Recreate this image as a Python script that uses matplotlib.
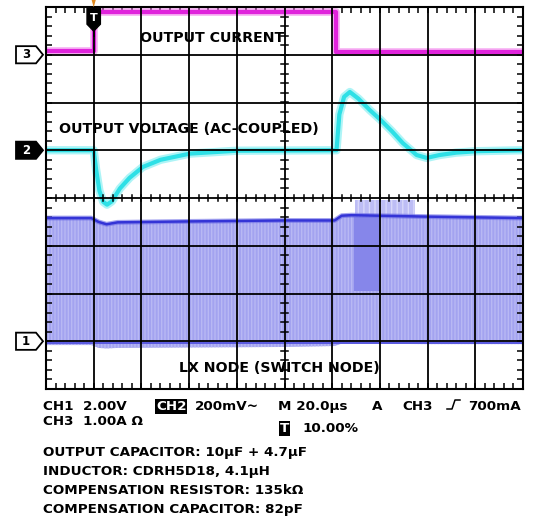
"""
Load-transient scope capture: output current, AC-coupled output voltage
and LX switch node, redrawn with matplotlib.
"""
import numpy as np
import matplotlib.pyplot as plt
from matplotlib.patches import Polygon
from matplotlib.lines import Line2D
from matplotlib.transforms import blended_transform_factory

plt.rcParams['font.family'] = 'DejaVu Sans'
plt.rcParams['font.weight'] = 'bold'

# channel reference levels (divisions from bottom of screen)
ch1_ref, ch2_ref, ch3_ref = 1.0, 5.0, 7.0

# CH3 - output current (divisions)
ch3_t = [0.0, 1.0, 1.0, 6.09, 6.09, 10.0]
ch3_v = [7.07, 7.07, 7.9, 7.9, 7.05, 7.05]

# CH2 - output voltage, AC coupled (divisions)
ch2_t = [0.0, 1.0, 1.05, 1.12, 1.2, 1.28, 1.38, 1.55, 1.75, 2.03, 2.4, 3.02,
         4.0, 6.09, 6.15, 6.25, 6.37, 6.55, 6.79, 7.02, 7.25, 7.48, 7.77,
         7.98, 8.25, 8.6, 9.03, 10.0]
ch2_v = [5.0, 5.0, 4.6, 4.15, 3.92, 3.86, 3.93, 4.2, 4.42, 4.65, 4.8, 4.93,
         4.99, 5.0, 5.75, 6.12, 6.22, 6.08, 5.84, 5.63, 5.4, 5.15, 4.9,
         4.84, 4.9, 4.95, 4.98, 5.0]

# CH1 - LX node envelope (divisions)
ch1_t = [0.0, 0.95, 1.1, 1.27, 1.5, 3.0, 5.0, 6.05, 6.2, 6.4, 8.0, 10.0]
ch1_top = [3.58, 3.58, 3.5, 3.45, 3.49, 3.51, 3.53, 3.53, 3.63, 3.64, 3.61, 3.58]
ch1_low = [0.92, 0.92, 0.86, 0.85, 0.86, 0.87, 0.88, 0.9, 0.95, 0.95, 0.94, 0.94]
skip_t = [6.47, 7.73]     # pulse-skipping burst
skip_top = [3.96, 3.96]
dense_t = [6.45, 7.0]     # denser switching region
dense_low = [2.05, 2.05]

bottom_row1 = ['CH1  2.00V', '200mV~', 'M 20.0µs', 'A', 'CH3', '700mA']
bottom_row2 = ['CH3  1.00A Ω', '10.00%']
notes = ['OUTPUT CAPACITOR: 10µF + 4.7µF',
         'INDUCTOR: CDRH5D18, 4.1µH',
         'COMPENSATION RESISTOR: 135kΩ',
         'COMPENSATION CAPACITOR: 82pF']

W, H = 535, 520
fig = plt.figure(figsize=(W / 100, H / 100), dpi=100)
ax = fig.add_axes([46 / W, 1 - 389 / H, 477 / W, 382 / H])
ax.set_xlim(0, 10)
ax.set_ylim(0, 8)


def px(x, y):
    return x / W, 1 - y / H


# LX node band
ax.fill_between(skip_t, [3.55, 3.55], skip_top, facecolor='#bdbdf5',
                edgecolor='#d8d8fa', hatch='|||', lw=0, zorder=1)
ax.fill_between(ch1_t, ch1_low, ch1_top, facecolor='#a3a3f0', edgecolor='#b8b8f4',
                hatch='|||||', lw=0, zorder=1)
ax.fill_between(dense_t, dense_low, [3.6, 3.6], color='#8686ea', lw=0, zorder=1)
ax.plot(ch1_t, ch1_top, color='#6a6ae6', lw=3.5, alpha=0.6, zorder=2)
ax.plot(ch1_t, ch1_top, color='#3434d6', lw=1.8, zorder=2)
ax.plot([0, 10], [ch1_ref - 0.03] * 2, color='#5a5ae0', lw=1.4, zorder=2)

# output voltage
ax.plot(ch2_t, ch2_v, color='#6cecf0', lw=6, alpha=0.55, zorder=3,
        solid_joinstyle='round')
ax.plot(ch2_t, ch2_v, color='#2ee0e6', lw=3, zorder=3)

# output current
ax.plot(ch3_t, ch3_v, color='#f070ea', lw=5.5, alpha=0.55, zorder=3)
ax.plot(ch3_t, ch3_v, color='#e024dc', lw=3, zorder=3)

# graticule
for k in range(1, 10):
    ax.axvline(k, color='black', lw=1.3, zorder=4)
for k in range(1, 8):
    ax.axhline(k, color='black', lw=1.3, zorder=4)
for s in ax.spines.values():
    s.set_linewidth(1.5)
    s.set_zorder(5)
ax.set_xticks(np.arange(0, 10.01, 0.2))
ax.set_yticks(np.arange(0, 8.01, 0.2))
ax.tick_params(direction='in', length=4, width=1.1, top=True, right=True,
               labelbottom=False, labelleft=False)
for t in np.arange(0.2, 10, 0.2):
    ax.plot([t, t], [3.93, 4.07], color='black', lw=1.1, zorder=4)
for t in np.arange(0.2, 8, 0.2):
    ax.plot([4.93, 5.07], [t, t], color='black', lw=1.1, zorder=4)

# in-screen labels
lab = 10.2
ax.text(3.49, 7.35, 'OUTPUT CURRENT', ha='center', va='center', fontsize=lab,
        fontweight='bold', zorder=6)
ax.text(3.0, 5.44, 'OUTPUT VOLTAGE (AC-COUPLED)', ha='center', va='center',
        fontsize=lab, fontweight='bold', zorder=6)
ax.text(4.9, 0.44, 'LX NODE (SWITCH NODE)', ha='center', va='center',
        fontsize=lab, fontweight='bold', zorder=6)

# channel markers
tr = blended_transform_factory(fig.transFigure, ax.transData)
for num, lvl, dark in [('3', ch3_ref, False), ('2', ch2_ref, True), ('1', ch1_ref, False)]:
    x0, x1, x2 = 16 / W, 36 / W, 43 / W
    h = 0.18
    poly = Polygon([(x0, lvl - h), (x1, lvl - h), (x2, lvl), (x1, lvl + h), (x0, lvl + h)],
                   closed=True, transform=tr, clip_on=False, lw=1.3,
                   facecolor='black' if dark else 'white', edgecolor='black')
    ax.add_patch(poly)
    ax.text(26 / W, lvl, num, transform=tr, ha='center', va='center',
            fontsize=8.5, fontweight='bold', color='white' if dark else 'black')

# trigger marker
tt = blended_transform_factory(ax.transData, ax.transAxes)
ax.add_patch(Polygon([(0.92, 1.035), (1.08, 1.035), (1.0, 0.999)], closed=True,
                     transform=tt, clip_on=False, facecolor='#e08a20',
                     edgecolor='none', zorder=7))
ax.add_patch(Polygon([(0.86, 0.997), (1.14, 0.997), (1.14, 0.955), (1.0, 0.937),
                      (0.86, 0.955)], closed=True, transform=tt, clip_on=False,
                     facecolor='black', edgecolor='black', lw=1, zorder=7))
ax.plot([1.0, 1.0], [0.94, 0.925], transform=tt, color='black', lw=1.3, zorder=7)
ax.text(1.0, 0.972, 'T', transform=tt, ha='center', va='center', color='white',
        fontsize=8, fontweight='bold', zorder=8)

# readout text
fs = 9.7
fig.text(*px(43, 410), bottom_row1[0], fontsize=fs, fontweight='bold', va='baseline')
fig.text(*px(156, 410), 'CH2', fontsize=fs, fontweight='bold', va='baseline',
         color='white', bbox=dict(facecolor='black', edgecolor='none', pad=0.5))
fig.text(*px(195, 410), bottom_row1[1], fontsize=fs, fontweight='bold', va='baseline')
fig.text(*px(278, 410), bottom_row1[2], fontsize=fs, fontweight='bold', va='baseline')
fig.text(*px(372, 410), bottom_row1[3], fontsize=fs, fontweight='bold', va='baseline')
fig.text(*px(402, 410), bottom_row1[4], fontsize=fs, fontweight='bold', va='baseline')
fig.add_artist(Line2D([px(447, 0)[0], px(452, 0)[0], px(455, 0)[0], px(460, 0)[0]],
                      [px(0, 409)[1], px(0, 409)[1], px(0, 400)[1], px(0, 400)[1]],
                      color='black', lw=1.1))
fig.text(*px(468, 410), bottom_row1[5], fontsize=fs, fontweight='bold', va='baseline')
fig.text(*px(43, 425), bottom_row2[0], fontsize=fs, fontweight='bold', va='baseline')
fig.text(*px(280, 432), 'T', fontsize=fs, fontweight='bold', va='baseline',
         color='white', bbox=dict(facecolor='black', edgecolor='none', pad=0.5))
fig.text(*px(302, 432), bottom_row2[1], fontsize=fs, fontweight='bold', va='baseline')

for i, line in enumerate(notes):
    fig.text(*px(43, 456 + 18.9 * i), line, fontsize=fs, fontweight='bold', va='baseline')

fig.savefig('out.png', dpi=100, facecolor='white')
